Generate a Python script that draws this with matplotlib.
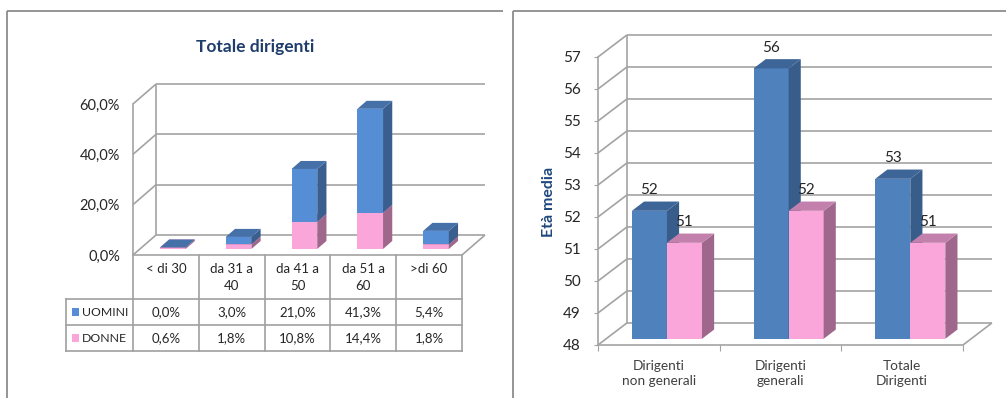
import matplotlib
matplotlib.use("Agg")
from matplotlib import pyplot as plt
from matplotlib.patches import Polygon, Rectangle

plt.rcParams['font.family'] = ['Lato', 'DejaVu Sans']

# distribuzione per fascia d'età, totale dirigenti (%)
fasce = ["< di 30", "da 31 a\n40", "da 41 a\n50", "da 51 a\n60", ">di 60"]
uomini = [0.0, 3.0, 21.0, 41.3, 5.4]
donne = [0.6, 1.8, 10.8, 14.4, 1.8]
serie = ["UOMINI", "DONNE"]

# età media per qualifica
qualifiche = ["Dirigenti\nnon generali", "Dirigenti\ngenerali", "Totale\nDirigenti"]
eta_uomini = [52.0, 56.45, 53.0]
eta_donne = [51.0, 52.0, 51.0]

W, H = 1006, 398
GRIGIO = '#A3A3A3'
TESTO = '#262626'
BLU_SX = ('#558ED5', '#3A5F8F', '#4570A8')
ROSA = ('#FBA6DA', '#A0678C', '#C480AC')
BLU_DX = ('#4F81BD', '#385D8A', '#3E6597')


def fmt_pct(v):
    return f"{v:.1f}%".replace('.', ',')


def barra3d(ax, xc, y0, y1, w, ddx, ddy, col, z):
    fc, sc, tc = col
    xl, xr = xc - w / 2, xc + w / 2
    ax.add_patch(Rectangle((xl, y0), w, y1 - y0, fc=fc, ec='none', zorder=z, clip_on=False))
    ax.add_patch(Polygon([(xr, y0), (xr + ddx, y0 + ddy), (xr + ddx, y1 + ddy), (xr, y1)],
                         fc=sc, ec='none', zorder=z, clip_on=False))
    ax.add_patch(Polygon([(xl, y1), (xr, y1), (xr + ddx, y1 + ddy), (xl + ddx, y1 + ddy)],
                         fc=tc, ec='none', zorder=z, clip_on=False))


def pareti(ax, n, ticks, wdx, wdy):
    lo, hi = ticks[0], ticks[-1]
    kw = dict(color=GRIGIO, lw=1.2, clip_on=False, zorder=1, solid_capstyle='butt')
    for t in ticks:
        ax.plot([0, wdx], [t, t + wdy], **kw)
        ax.plot([wdx, n + wdx], [t + wdy, t + wdy], **kw)
    ax.plot([wdx, wdx], [lo + wdy, hi + wdy], **kw)
    ax.plot([n, n + wdx], [lo, lo + wdy], **kw)


fig = plt.figure(figsize=(W / 100, H / 100), dpi=100)

# livello di sfondo in pixel: cornici, titolo, tabella dati
bg = fig.add_axes([0, 0, 1, 1], zorder=0)
bg.set_xlim(0, W)
bg.set_ylim(H, 0)
bg.axis('off')
kf = dict(color='#8C8C8C', lw=1.3, solid_capstyle='butt')
bg.plot([7.5, 7.5], [H, 10.5], **kf)
bg.plot([7.5, 503], [10.5, 10.5], **kf)
bg.plot([513, 513], [H, 10.5], **kf)
bg.plot([513, W], [10.5, 10.5], **kf)
bg.text(255, 47, "Totale dirigenti", ha='center', va='center', fontsize=12.5,
        fontweight='bold', color='#1F3D6B')

# ---- grafico sinistro: barre 3D impilate ----
ax1 = fig.add_axes([133 / W, (H - 255) / H, (462 - 133) / W, (255 - 104) / H], zorder=1)
ax1.set_facecolor('none')
ax1.set_xlim(0, len(fasce))
ax1.set_ylim(0, 60)
ax1.set_yticks([0, 20, 40, 60])
ax1.set_yticklabels([fmt_pct(t) for t in [0, 20, 40, 60]])
ax1.set_xticks([])
ax1.tick_params(axis='y', length=0, pad=9.4, labelsize=10.5, labelcolor=TESTO)
for s in ['top', 'right']:
    ax1.spines[s].set_visible(False)
for s in ['left', 'bottom']:
    ax1.spines[s].set_color(GRIGIO)
    ax1.spines[s].set_linewidth(1.2)

WDX1, WDY1 = 0.35, 7.95
F0, F1 = 0.3, 0.7
pareti(ax1, len(fasce), [0, 20, 40, 60], WDX1, WDY1)
bw1 = 0.39
for i, (u, d) in enumerate(zip(uomini, donne)):
    xc = i + 0.5 + F0 * WDX1
    b = F0 * WDY1
    ddx, ddy = (F1 - F0) * WDX1, (F1 - F0) * WDY1
    barra3d(ax1, xc, b, b + d, bw1, ddx, ddy, ROSA, 3 + 2 * i)
    barra3d(ax1, xc, b + d, b + d + u, bw1, ddx, ddy, BLU_SX, 4 + 2 * i)

# tabella dati sotto il grafico
col_x = [133 + 65.8 * i for i in range(len(fasce) + 1)]
kt = dict(color='#A0A0A0', lw=1.2, solid_capstyle='projecting')
for x in col_x:
    bg.plot([x, x], [255, 351], **kt)
bg.plot([66, 66], [299, 351], **kt)
for y in [299, 325, 351]:
    bg.plot([66, col_x[-1]], [y, y], **kt)
for i, f in enumerate(fasce):
    cx = (col_x[i] + col_x[i + 1]) / 2
    bg.text(cx, 263, f, ha='center', va='top', fontsize=9.5, color=TESTO, linespacing=1.45)
for r, (nome, vals, col) in enumerate(zip(serie, [uomini, donne], [BLU_SX, ROSA])):
    yc = 312 + 26 * r
    bg.add_patch(Rectangle((72, yc - 4), 7, 8, fc=col[0], ec='none'))
    bg.text(82, yc, nome, ha='left', va='center', fontsize=8.8, color=TESTO)
    for i, v in enumerate(vals):
        cx = (col_x[i] + col_x[i + 1]) / 2
        bg.text(cx, yc, fmt_pct(v), ha='center', va='center', fontsize=9.5, color=TESTO)

# ---- grafico destro: età media, barre 3D affiancate ----
ax2 = fig.add_axes([598 / W, (H - 345) / H, (963 - 598) / W, (345 - 57) / H], zorder=1)
ax2.set_facecolor('none')
ax2.set_xlim(0, len(qualifiche))
ax2.set_ylim(48, 57)
yt = list(range(48, 58))
ax2.set_yticks(yt)
ax2.set_xticks(range(len(qualifiche) + 1))
ax2.set_xticklabels([])
ax2.set_xticks([i + 0.5 for i in range(len(qualifiche))], minor=True)
ax2.set_xticklabels(qualifiche, minor=True, fontsize=9.8, color='#404040', linespacing=1.3)
ax2.tick_params(axis='y', direction='out', length=3, color=GRIGIO, pad=9.4,
                labelsize=11, labelcolor=TESTO)
ax2.tick_params(axis='x', which='major', direction='out', length=4, color=GRIGIO)
ax2.tick_params(axis='x', which='minor', length=0, pad=10.5)
for s in ['top', 'right']:
    ax2.spines[s].set_visible(False)
for s in ['left', 'bottom']:
    ax2.spines[s].set_color(GRIGIO)
    ax2.spines[s].set_linewidth(1.2)
ax2.set_ylabel("Età media", fontsize=11.5, fontweight='bold', color='#1F497D', va='center')
ax2.yaxis.set_label_coords(-0.134, 0.4965)

WDX2, WDY2 = 0.238, 0.69
G0, G1 = 0.28, 0.7
pareti(ax2, len(qualifiche), yt, WDX2, WDY2)
bw2 = 0.288
for i, (u, d) in enumerate(zip(eta_uomini, eta_donne)):
    b = 48 + G0 * WDY2
    ddx, ddy = (G1 - G0) * WDX2, (G1 - G0) * WDY2
    for k, (v, col) in enumerate([(u, BLU_DX), (d, ROSA)]):
        xc = i + 0.5 + (k - 0.5) * bw2 + G0 * WDX2
        barra3d(ax2, xc, b, v + G0 * WDY2, bw2, ddx, ddy, col, 3 + 2 * i + k)
        ax2.annotate(f"{v:.0f}", (xc, v + G1 * WDY2), xytext=(0, 3), textcoords='offset points',
                     ha='center', va='bottom', fontsize=11, color=TESTO, zorder=10,
                     annotation_clip=False)

fig.savefig("out.png", dpi=100)
